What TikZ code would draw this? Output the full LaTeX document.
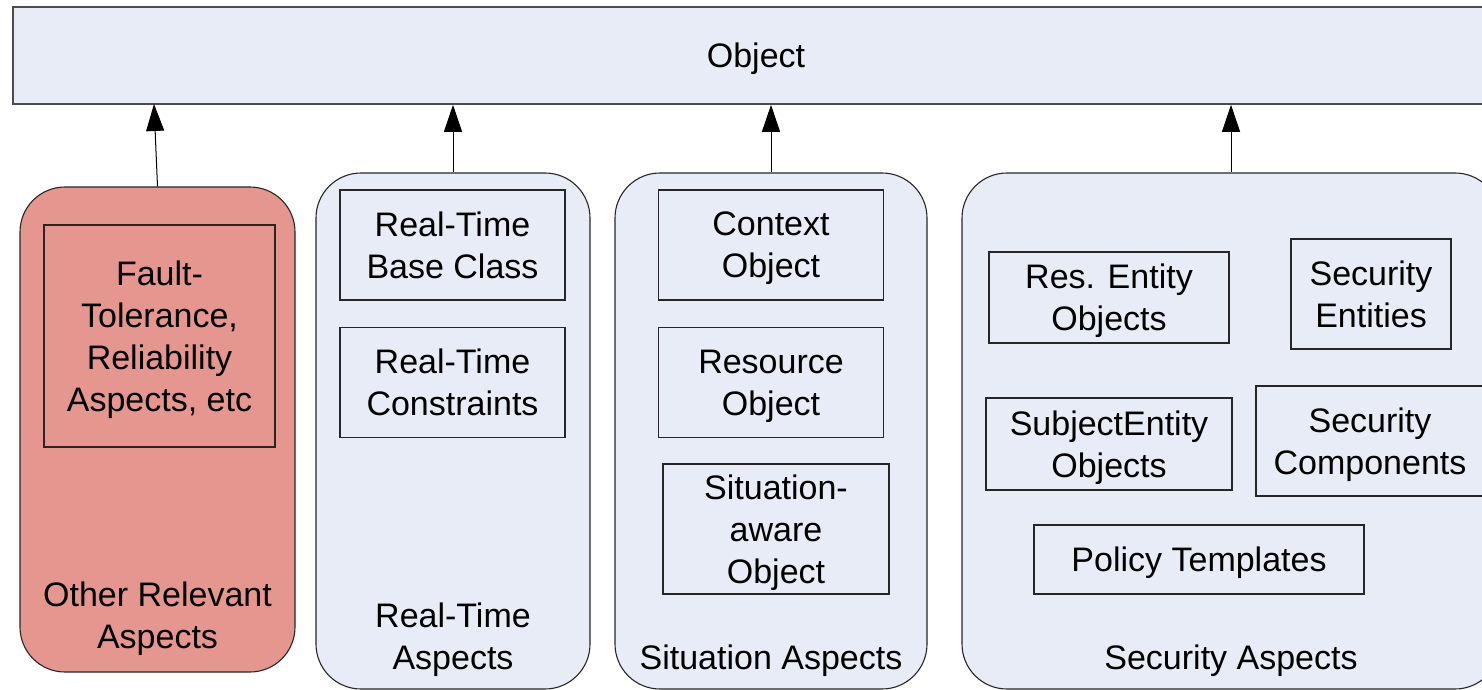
\documentclass[tikz,border=0pt]{standalone}
\usepackage{fontspec}
\setmainfont{Liberation Sans}
\usetikzlibrary{arrows.meta}

\definecolor{aspectblue}{RGB}{232,236,246}
\definecolor{faultred}{RGB}{229,150,142}

\begin{document}
\begin{tikzpicture}[x=1pt,y=-1pt,
  every node/.style={font=\fontsize{34}{42}\selectfont, align=center, inner sep=0pt, text depth=0pt},
  objbox/.style={draw=black!70, line width=1.6pt, fill=aspectblue},
  aspect/.style={draw=black!85, line width=1.1pt, fill=aspectblue, rounded corners=45pt},
  inbox/.style={draw=black!85, line width=1.1pt},
  isa/.style={line width=1pt, -{Triangle[length=27pt,width=18pt]}}]
\clip (0,0) rectangle (1482,690);

% base class on top
\node[objbox, minimum width=1486pt, minimum height=97pt] (obj) at (756,55.5) {Object};

% other aspects
\node[aspect, fill=faultred, minimum width=275pt, minimum height=485pt] (other) at (157.5,429.5) {};
\node[inbox, minimum width=231pt, minimum height=222pt] (ft) at (159.5,336) {Fault-\\Tolerance,\\Reliability\\Aspects, etc};
\node (otherlbl) at (157.5,615) {Other Relevant\\Aspects};

% real-time aspects
\node[aspect, minimum width=274pt, minimum height=516pt] (rt) at (453,431) {};
\node[inbox, minimum width=225pt, minimum height=110pt] (rtbase) at (452.5,245) {Real-Time\\Base Class};
\node[inbox, minimum width=225pt, minimum height=110pt] (rtcons) at (452.5,382.5) {Real-Time\\Constraints};
\node (rtlbl) at (453,636) {Real-Time\\Aspects};

% situation aspects
\node[aspect, minimum width=312pt, minimum height=516pt] (sit) at (771,431) {};
\node[inbox, minimum width=225pt, minimum height=110pt] (ctx) at (771,245) {Context\\Object};
\node[inbox, minimum width=225pt, minimum height=110pt] (res) at (771,382.5) {Resource\\Object};
\node[inbox, minimum width=226pt, minimum height=130pt] (saware) at (776,529) {Situation-\\aware\\Object};
\node (sitlbl) at (771,657) {Situation Aspects};

% security aspects
\node[aspect, minimum width=538pt, minimum height=516pt] (sec) at (1231,431) {};
\node[inbox, minimum width=240pt, minimum height=91pt] (resent) at (1109,297.5) {Res. Entity\\Objects};
\node[inbox, minimum width=160pt, minimum height=110pt] (secent) at (1371,294) {Security\\Entities};
\node[inbox, minimum width=246pt, minimum height=92pt] (subj) at (1109,444) {SubjectEntity\\Objects};
\node[inbox, minimum width=228pt, minimum height=110pt] (seccomp) at (1370,441) {Security\\Components};
\node[inbox, minimum width=330pt, minimum height=69pt] (policy) at (1199,559.5) {Policy Templates};
\node (seclbl) at (1231,657) {Security Aspects};

% inheritance arrows
\coordinate (tipA) at (154,104);
\draw[isa] (other.north) -- (tipA);
\foreach \a in {rt,sit,sec}
  \draw[isa] (\a.north) -- (\a.north |- obj.south);
\end{tikzpicture}
\end{document}
